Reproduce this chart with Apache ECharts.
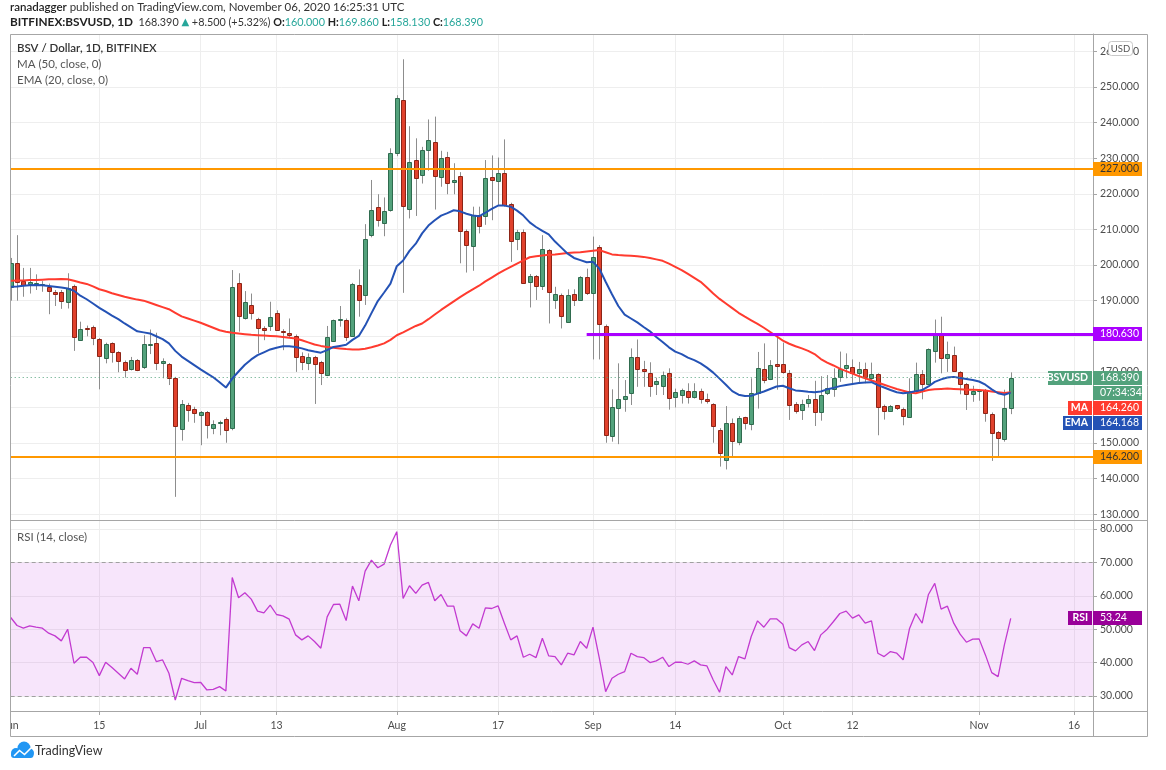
<!DOCTYPE html>
<html>
<head>
<meta charset="utf-8">
<title>BSV / Dollar, 1D, BITFINEX</title>
<script src="https://cdn.jsdelivr.net/npm/echarts@6/dist/echarts.min.js"></script>
<style>
  html, body { margin: 0; padding: 0; background: #fff; }
  #chart { width: 1166px; height: 770px; }
</style>
</head>
<body>
<div id="chart"></div>
<script>
// ---- data ----
var firstDate = '2020-06-01';
var dayCount = 172; // Jun 1 .. Nov 19, the axis runs past the last candle

var tickDates = ['2020-06-01', '2020-06-15', '2020-07-01', '2020-07-13', '2020-08-01', '2020-08-17',
                 '2020-09-01', '2020-09-14', '2020-10-01', '2020-10-12', '2020-11-01', '2020-11-16'];
var tickLabels = ['Jun', '15', 'Jul', '13', 'Aug', '17', 'Sep', '14', 'Oct', '12', 'Nov', '16'];

var priceTicks = [130, 140, 150, 160, 170, 180, 190, 200, 210, 220, 230, 240, 250, 260];
var rsiTicks = [30, 40, 50, 60, 70, 80];

// daily candles from Jun 1: [open, close, low, high]
var candles = [
  [193.9,200.6,190.0,202.0],[200.7,195.5,190.0,208.4],[195.5,194.4,191.1,199.2],[194.6,195.3,192.0,199.2],
  [194.8,195.0,193.0,197.4],[194.2,194.6,192.5,195.5],[193.9,192.7,186.2,194.8],[192.5,191.8,188.5,193.0],
  [192.5,190.0,187.7,193.0],[189.7,193.7,187.8,197.7],[194.1,179.9,175.9,194.5],[179.1,182.1,178.9,184.1],
  [182.3,182.0,180.0,183.0],[182.7,179.7,177.5,183.0],[179.1,174.2,165.1,179.5],[174.0,177.8,172.4,178.2],
  [178.0,175.4,172.6,178.3],[175.5,173.0,169.9,175.8],[172.8,170.5,168.4,173.2],[170.7,173.3,170.4,174.2],
  [173.3,170.5,170.2,173.6],[171.2,177.7,170.8,180.3],[177.5,177.8,175.0,181.9],[178.2,172.7,170.5,181.0],
  [172.4,173.0,168.2,173.8],[172.2,168.4,166.3,172.5],[168.4,154.8,134.9,168.6],[154.0,160.9,150.7,162.1],
  [160.8,159.3,156.0,161.3],[159.7,158.5,155.7,160.2],[157.7,158.6,149.4,159.0],[158.7,155.1,151.3,159.0],
  [154.2,155.3,152.5,156.4],[155.5,155.9,152.2,156.3],[156.8,153.8,150.1,157.2],[154.4,193.9,153.6,198.6],
  [195.1,185.9,181.3,197.7],[185.0,189.5,184.7,192.7],[188.8,186.6,184.7,192.0],[184.8,182.2,175.2,185.2],
  [182.2,181.6,178.9,182.8],[182.7,185.3,181.5,189.7],[186.6,181.9,181.7,187.3],[181.6,181.3,176.1,182.0],
  [181.0,180.3,179.6,185.0],[180.2,174.3,170.0,180.5],[174.6,172.8,170.5,175.5],[172.4,174.1,170.5,175.2],
  [174.1,172.2,161.0,174.5],[172.8,169.8,166.3,173.1],[169.1,179.7,168.8,182.9],[178.7,184.5,178.4,184.7],
  [184.5,184.9,182.7,188.5],[184.7,180.0,178.7,185.0],[180.3,194.8,180.0,195.0],[194.3,190.0,185.5,198.8],
  [191.6,207.2,188.8,211.5],[208.3,215.4,207.8,223.9],[216.2,212.6,210.8,219.9],[212.0,215.3,208.1,219.0],
  [215.3,231.4,215.0,232.8],[231.5,247.0,230.6,247.7],[246.5,216.8,192.2,257.8],[215.8,229.0,213.1,239.0],
  [229.5,224.4,213.8,235.6],[225.3,232.3,222.9,233.2],[232.3,235.1,226.5,240.9],[234.6,225.1,215.6,241.7],
  [224.8,230.0,222.0,232.1],[230.3,223.1,219.9,231.8],[223.3,223.9,219.9,228.6],[225.0,209.5,200.5,226.1],
  [209.5,205.6,197.9,210.0],[205.6,214.2,198.4,216.4],[214.0,210.8,208.9,216.4],[213.8,224.5,211.3,229.5],
  [224.7,223.9,212.6,230.8],[223.7,225.9,216.9,230.2],[225.8,216.9,216.4,235.3],[217.1,206.6,200.9,217.5],
  [207.5,209.4,204.2,209.9],[209.4,195.0,194.8,210.0],[195.1,196.9,188.1,197.5],[196.9,194.1,190.2,197.2],
  [194.1,204.5,193.0,208.4],[204.2,192.5,183.6,204.5],[190.4,192.0,187.7,193.9],[191.6,185.8,182.2,192.0],
  [184.1,191.6,183.8,193.2],[191.8,190.2,188.5,193.2],[190.2,196.7,190.0,196.9],[196.7,192.2,191.6,199.0],
  [192.3,202.3,173.5,208.0],[205.0,183.3,173.5,205.6],[182.9,152.4,150.1,183.3],[151.8,160.0,150.4,165.1],
  [159.7,162.3,149.7,172.4],[162.4,163.3,158.8,167.7],[164.1,174.1,160.7,176.6],[174.1,170.8,165.8,179.1],
  [170.9,170.3,165.8,173.1],[169.8,166.1,163.0,172.7],[166.5,167.3,163.5,168.4],[166.1,169.1,163.5,170.1],
  [169.6,162.7,159.4,171.0],[163.0,164.3,160.0,165.3],[163.4,164.8,161.1,165.3],[164.7,163.0,161.1,166.8],
  [162.8,164.5,162.5,166.8],[164.7,162.5,161.1,165.3],[162.5,161.8,161.1,163.9],[160.9,154.6,150.1,161.2],
  [153.8,147.3,143.4,154.2],[145.4,155.7,142.6,160.4],[155.7,150.6,146.3,156.9],[150.4,157.1,149.4,157.6],
  [157.2,155.5,153.8,157.4],[155.5,164.2,153.6,168.2],[163.9,171.0,159.7,175.6],[170.9,167.7,166.8,178.0],
  [167.9,171.9,167.7,173.3],[172.2,171.7,165.0,180.0],[172.1,169.8,169.5,178.2],[169.6,160.7,156.5,170.5],
  [160.9,159.0,158.3,161.5],[159.1,160.9,156.5,162.2],[161.1,162.3,160.0,163.5],[162.5,158.8,154.8,167.5],
  [158.8,163.5,156.3,168.8],[164.0,165.4,163.5,169.1],[165.4,168.4,163.0,171.0],[168.4,170.7,167.2,175.7],
  [170.9,171.8,168.2,175.2],[171.4,169.6,166.3,173.5],[169.6,170.8,166.6,172.8],[170.8,168.6,166.8,172.6],
  [168.2,169.3,167.2,172.6],[169.3,159.9,152.2,169.6],[160.4,159.1,156.6,160.8],[159.1,160.4,158.8,160.7],
  [160.6,159.7,159.3,160.7],[159.7,157.6,155.0,160.0],[157.4,164.7,157.4,168.2],[164.7,169.4,164.4,172.6],
  [169.4,166.6,162.3,170.5],[166.6,176.3,166.4,176.6],[175.7,180.8,172.6,184.7],[180.8,173.8,169.6,185.5],
  [173.8,175.0,170.0,178.5],[174.7,170.3,170.0,177.1],[169.9,166.6,163.7,170.2],[166.6,163.7,159.3,166.9],
  [163.8,164.7,161.6,166.1],[164.8,165.0,161.9,165.2],[164.9,158.3,156.0,165.2],[158.3,153.0,145.0,158.6],
  [153.1,151.3,146.2,153.4],[151.3,159.9,150.4,165.0],[160.0,168.39,158.13,169.86]
];

var ma50 = [
  195.6,195.7,195.7,195.8,195.8,195.9,196.0,196.0,196.1,196.0,
  195.6,195.1,194.7,194.0,193.2,192.7,192.1,191.6,191.1,190.7,
  190.3,190.0,189.4,188.8,188.2,187.6,186.6,185.6,185.0,184.4,
  183.8,183.1,182.4,181.7,181.3,181.0,180.8,180.6,180.4,180.3,
  180.2,180.1,180.0,179.8,179.6,179.4,178.9,178.3,177.7,177.3,
  177.0,176.8,176.6,176.4,176.3,176.3,176.5,176.9,177.4,178.0,
  179.0,180.3,181.1,182.0,182.9,183.6,184.8,186.1,187.4,188.6,
  189.8,191.0,192.1,193.2,194.2,195.4,196.5,197.6,198.6,199.5,
  200.4,201.3,202.2,202.5,202.7,202.9,203.0,203.2,203.4,203.5,
  203.6,203.8,204.0,204.2,203.6,203.0,202.8,202.7,202.6,202.5,
  202.3,202.0,201.6,201.2,200.4,199.5,198.6,197.5,196.4,195.3,
  193.7,192.0,190.5,189.2,187.9,186.6,185.5,184.5,183.5,182.4,
  181.2,180.0,178.8,177.9,177.2,176.6,175.9,175.0,173.6,172.6,
  171.8,170.9,170.2,169.5,168.8,168.2,167.6,167.0,166.4,165.8,
  165.2,164.7,164.2,164.0,164.5,164.9,165.1,165.2,165.3,165.2,
  165.1,165.0,165.0,164.9,164.8,164.5,164.3,164.1,164.26
];

var ema20 = [
  193.9,194.0,194.2,194.3,194.4,194.3,194.1,193.9,193.7,193.4,
  192.8,191.4,190.4,189.2,188.0,186.9,185.8,184.8,183.6,182.5,
  181.4,181.1,180.8,180.0,179.2,178.0,175.9,174.3,173.1,171.9,
  170.7,169.6,168.5,167.1,165.6,168.1,170.1,172.0,173.5,174.7,
  175.5,176.3,176.8,177.2,177.2,177.0,176.6,176.1,175.7,175.4,
  176.1,177.0,177.3,177.6,179.0,180.1,183.0,186.5,189.9,192.3,
  194.8,199.7,201.3,204.0,206.0,208.9,211.1,212.6,213.9,214.6,
  215.4,215.1,214.4,213.9,213.7,214.7,215.8,216.7,216.7,216.4,
  215.3,213.9,212.0,210.7,209.6,208.6,206.6,204.9,203.2,202.0,
  201.4,200.8,200.9,199.0,195.3,191.8,188.5,186.1,185.0,183.9,
  182.6,181.4,179.8,178.4,176.9,175.7,175.0,174.0,173.3,172.4,
  171.2,169.8,168.1,166.4,164.6,163.6,163.2,163.3,163.9,164.5,
  165.2,165.9,166.1,165.4,164.8,164.6,164.4,164.3,164.5,165.1,
  165.5,166.0,166.3,166.6,166.9,167.0,167.1,166.3,165.6,164.9,
  164.3,164.0,164.2,164.6,164.9,165.9,167.2,167.9,168.4,168.6,
  168.3,168.0,167.7,167.3,166.4,165.1,164.0,163.6,164.168
];

var rsi14 = [
  53.5,51.1,50.3,51.0,50.6,50.3,48.8,48.0,46.5,50.0,
  39.8,41.6,41.6,40.0,36.1,40.1,38.5,36.8,35.1,38.3,
  36.5,44.5,44.5,40.3,40.8,36.8,28.8,35.3,34.6,34.0,
  34.1,31.8,32.0,32.8,31.5,65.5,59.4,60.9,59.0,55.4,
  54.9,57.2,54.4,54.0,53.0,48.3,46.8,48.0,46.3,44.3,
  53.7,57.4,57.5,52.6,62.9,58.5,67.4,70.7,68.4,69.5,
  75.2,79.2,59.2,63.0,60.7,63.2,64.0,58.5,60.4,56.9,
  56.9,49.5,48.0,51.6,50.3,56.4,56.2,57.0,51.8,46.8,
  48.0,41.6,42.5,41.5,47.3,42.0,41.8,39.3,42.8,42.3,
  46.3,44.3,50.6,41.3,31.3,35.3,36.5,37.3,42.8,41.8,
  41.5,40.0,40.5,41.6,38.8,40.1,40.1,39.5,40.5,39.3,
  39.0,34.8,31.1,38.8,36.3,41.8,41.1,47.8,52.5,50.6,
  53.1,53.1,51.5,44.5,43.5,45.3,46.3,43.6,48.3,50.0,
  52.3,54.7,55.4,53.3,54.3,51.8,52.5,42.8,41.8,43.3,
  42.8,40.8,50.1,54.7,51.8,60.4,63.7,56.0,56.9,51.8,
  48.5,46.1,47.0,47.1,42.3,37.0,35.8,45.3,53.24
];

var resistance = 227.0;
var support = 146.2;
var midLevel = 180.63;
var midLevelFrom = '2020-08-31';
var lastPrice = 168.39;
var lastMa = 164.26;
var lastEma = 164.168;
var lastRsi = 53.24;
var countdown = '07:34:34';

// ---- chart ----
var FONT = 'Lato, "DejaVu Sans", sans-serif';
var TEXT = '#4d4d4d';
var GRID = '#eeeeee';
var FRAME = '#a6a6a6';
var UP = '#53a27c', UP_EDGE = '#2f6b4e';
var DOWN = '#e0412c', DOWN_EDGE = '#8c2416';

function buildDates(start, n){
  var out = [];
  var d = new Date(start + 'T00:00:00Z');
  for (var i = 0; i < n; i++) {
    out.push(d.toISOString().slice(0, 10));
    d.setUTCDate(d.getUTCDate() + 1);
  }
  return out;
}
var dates = buildDates(firstDate, dayCount);

function isTick(idx, value){ return tickDates.indexOf(value) >= 0 }
function tickText(value){
  var k = tickDates.indexOf(value);
  return k >= 0 ? tickLabels[k] : '';
}

var candleData = candles.map(function(c, i){ return [i, c[0], c[1], c[2], c[3]] });

function drawCandle(params, api){
  var i = api.value(0);
  var o = api.value(1), c = api.value(2), lo = api.value(3), hi = api.value(4);
  var pO = api.coord([i, o]);
  var x = Math.round(pO[0]) + 0.5;
  var yC = api.coord([i, c])[1];
  var yL = api.coord([i, lo])[1];
  var yH = api.coord([i, hi])[1];
  var w = Math.max(3, Math.round(api.size([1, 0])[0] * 0.62));
  var up = c >= o;
  var top = Math.round(Math.min(pO[1], yC)) + 0.5;
  var h = Math.max(1, Math.round(Math.abs(pO[1] - yC)));
  return {
    type: 'group',
    children: [
      {type: 'line', shape: {x1: x, y1: yH, x2: x, y2: yL}, style: {stroke: '#8d8d8d', lineWidth: 1}},
      {type: 'rect', shape: {x: x - w / 2, y: top, width: w, height: h},
       style: {fill: up ? UP : DOWN, stroke: up ? UP_EDGE : DOWN_EDGE, lineWidth: 1}}
    ]
  };
}

var axisLabelStyle = {color: TEXT, fontSize: 10.5, fontFamily: FONT};

var chart = echarts.init(document.getElementById('chart'), null, {renderer: 'canvas'});

var option = {
  animation: false,
  backgroundColor: '#fff',
  grid: [
    {left: 10.7, top: 34, width: 1082.3, height: 486, outerBoundsMode: 'none'},
    {left: 10.7, top: 521, width: 1082.3, height: 190, outerBoundsMode: 'none'}
  ],
  xAxis: [
    {
      type: 'category', gridIndex: 0, data: dates, boundaryGap: false,
      axisLine: {show: false}, axisTick: {show: false}, axisLabel: {show: false},
      splitLine: {show: true, interval: isTick, lineStyle: {color: GRID, width: 1}}
    },
    {
      type: 'category', gridIndex: 1, data: dates, boundaryGap: false,
      axisLine: {show: true, lineStyle: {color: FRAME}},
      axisTick: {show: true, interval: isTick, length: 4, lineStyle: {color: FRAME}},
      axisLabel: Object.assign({interval: isTick, formatter: tickText, margin: 9}, axisLabelStyle),
      splitLine: {show: true, interval: isTick, lineStyle: {color: GRID, width: 1}}
    }
  ],
  yAxis: [
    {
      type: 'value', gridIndex: 0, position: 'right', min: 128.4, max: 264.9, scale: true,
      axisLine: {show: true, lineStyle: {color: FRAME}},
      axisTick: {show: true, length: 4, customValues: priceTicks, lineStyle: {color: FRAME}},
      axisLabel: Object.assign({customValues: priceTicks, margin: 7,
        formatter: function(v){ return v.toFixed(3) }}, axisLabelStyle),
      splitLine: {show: true, lineStyle: {color: GRID, width: 1}}
    },
    {
      type: 'value', gridIndex: 1, position: 'right', min: 25.5, max: 82.4, scale: true,
      axisLine: {show: true, lineStyle: {color: FRAME}},
      axisTick: {show: true, length: 4, customValues: rsiTicks, lineStyle: {color: FRAME}},
      axisLabel: Object.assign({customValues: rsiTicks, margin: 7,
        formatter: function(v){ return v.toFixed(3) }}, axisLabelStyle),
      splitLine: {show: true, lineStyle: {color: GRID, width: 1}}
    }
  ],
  series: [
    {
      name: 'BSVUSD', type: 'custom', xAxisIndex: 0, yAxisIndex: 0, z: 2,
      renderItem: drawCandle, data: candleData, encode: {x: 0, y: [1, 2, 3, 4]}, clip: true,
      markLine: {
        silent: true, symbol: ['none', 'none'], label: {show: false},
        lineStyle: {color: UP, type: [1, 3], width: 1},
        data: [{yAxis: lastPrice}]
      }
    },
    {
      name: 'MA', type: 'line', xAxisIndex: 0, yAxisIndex: 0, z: 3, data: ma50,
      showSymbol: false, symbol: 'none', lineStyle: {color: '#ff3b2f', width: 2}, silent: true
    },
    {
      name: 'EMA', type: 'line', xAxisIndex: 0, yAxisIndex: 0, z: 3, data: ema20,
      showSymbol: false, symbol: 'none', lineStyle: {color: '#2452b5', width: 2}, silent: true
    },
    {
      name: 'levels', type: 'line', xAxisIndex: 0, yAxisIndex: 0, z: 4, data: [],
      markLine: {
        silent: true, symbol: ['none', 'none'], label: {show: false},
        data: [
          {yAxis: resistance, lineStyle: {color: '#ff9800', width: 2, type: 'solid'}},
          {yAxis: support, lineStyle: {color: '#ff9800', width: 2, type: 'solid'}},
          [
            {coord: [midLevelFrom, midLevel], lineStyle: {color: '#aa00ff', width: 3, type: 'solid'}},
            {coord: [dates[dates.length - 1], midLevel]}
          ]
        ]
      }
    },
    {
      name: 'rsiBand', type: 'line', xAxisIndex: 1, yAxisIndex: 1, z: 1, data: [],
      markArea: {
        silent: true,
        itemStyle: {color: 'rgba(200, 80, 230, 0.15)'},
        data: [[{yAxis: 30}, {yAxis: 70}]]
      },
      markLine: {
        silent: true, symbol: ['none', 'none'], label: {show: false},
        lineStyle: {color: '#a0a0a0', width: 1, type: [4, 3]},
        data: [{yAxis: 70}, {yAxis: 30}]
      }
    },
    {
      name: 'RSI', type: 'line', xAxisIndex: 1, yAxisIndex: 1, z: 3, data: rsi14,
      showSymbol: false, symbol: 'none', lineStyle: {color: '#c23ad0', width: 1.3}, silent: true
    }
  ]
};

chart.setOption(option);

// ---- overlays: frame, header, price tags ----
function priceY(v){ return chart.convertToPixel({yAxisIndex: 0}, v) }
function rsiY(v){ return chart.convertToPixel({yAxisIndex: 1}, v) }

function txt(x, y, text, fill, size, weight, align){
  return {
    type: 'text', z: 60,
    style: {
      x: x, y: y, text: text, fill: fill, font: (weight || 'normal') + ' ' + size + 'px ' + FONT,
      align: align || 'left', textAlign: align || 'left',
      verticalAlign: 'middle', textVerticalAlign: 'middle'
    }
  };
}
function box(x, y, w, h, fill){
  return {type: 'rect', z: 55, shape: {x: x, y: y, width: w, height: h}, style: {fill: fill}};
}
function valueTag(y, text, bg, fg){
  return [box(1093, Math.round(y) - 7, 49, 14, bg), txt(1100, Math.round(y), text, fg, 10.5)];
}
function nameTag(y, text, width, bg){
  return [box(1092 - width, Math.round(y) - 7, width, 14, bg),
          txt(1088, Math.round(y), text, '#fff', 10.5, 'bold', 'right')];
}

var yLast = priceY(lastPrice);
var overlays = [];

// frame and pane divider
overlays.push({type: 'rect', z: 50, shape: {x: 10.5, y: 34.5, width: 1137, height: 702},
  style: {fill: null, stroke: FRAME, lineWidth: 1}});
overlays.push({type: 'line', z: 50, shape: {x1: 10.5, y1: 520.5, x2: 1147.5, y2: 520.5},
  style: {stroke: FRAME, lineWidth: 1}});
overlays.push({type: 'line', z: 50, shape: {x1: 1093.5, y1: 34.5, x2: 1093.5, y2: 736.5},
  style: {stroke: FRAME, lineWidth: 1}});
overlays.push({type: 'line', z: 50, shape: {x1: 1093.5, y1: 711.5, x2: 1147.5, y2: 711.5},
  style: {stroke: FRAME, lineWidth: 1}});
// the first month label is cut by the pane edge
overlays.push({type: 'rect', z: 49, shape: {x: 0, y: 713, width: 10.5, height: 22}, style: {fill: '#fff'}});

// USD badge
overlays.push({type: 'rect', z: 56, shape: {x: 1108.5, y: 41.5, width: 24, height: 14, r: 3},
  style: {fill: '#fff', stroke: '#c8c8c8', lineWidth: 1}});
overlays.push(txt(1120.5, 48.5, 'USD', '#555', 9.5, 'normal', 'center'));

// header
overlays.push({
  type: 'text', z: 60,
  style: {
    x: 10, y: 7, text: '{u|ranadagger} published on TradingView.com, November 06, 2020 16:25:31 UTC',
    fill: '#333', font: '11.5px ' + FONT, verticalAlign: 'middle', textVerticalAlign: 'middle',
    rich: {u: {fill: '#222', font: '600 11.5px ' + FONT}}
  }
});
overlays.push({
  type: 'text', z: 60,
  style: {
    x: 10, y: 22.5,
    text: '{b|BITFINEX:BSVUSD, 1D}  168.390 {t|▲} +8.500 (+5.32%) {k|O:}{v|160.000} {k|H:}{v|169.860} {k|L:}{v|158.130} {k|C:}{v|168.390}',
    fill: '#333', font: '10.8px ' + FONT, verticalAlign: 'middle', textVerticalAlign: 'middle',
    rich: {
      b: {fill: '#222', font: 'bold 11.8px ' + FONT},
      k: {fill: '#222', font: 'bold 10.8px ' + FONT},
      t: {fill: '#26a69a', font: '10px "DejaVu Sans", sans-serif'},
      v: {fill: '#26a69a', font: '10.8px ' + FONT}
    }
  }
});

// pane legends
overlays.push(txt(17, 48, 'BSV / Dollar, 1D, BITFINEX', '#333', 11.5, '600'));
overlays.push(txt(17, 64, 'MA (50, close, 0)', '#555', 11.5));
overlays.push(txt(17, 80, 'EMA (20, close, 0)', '#555', 11.5));
overlays.push(txt(17, 537, 'RSI (14, close)', '#555', 11.5));

// right-hand tags
overlays = overlays.concat(valueTag(priceY(resistance), resistance.toFixed(3), '#ff9800', '#333'));
overlays = overlays.concat(valueTag(priceY(midLevel), midLevel.toFixed(3), '#aa00ff', '#fff'));
overlays = overlays.concat(valueTag(priceY(support), support.toFixed(3), '#ff9800', '#333'));
overlays = overlays.concat(nameTag(yLast, 'BSVUSD', 44, UP), valueTag(yLast, lastPrice.toFixed(3), UP, '#fff'));
overlays = overlays.concat(valueTag(yLast + 15, countdown, UP, '#fff'));
overlays = overlays.concat(nameTag(yLast + 30, 'MA', 24, '#ff3b2f'), valueTag(yLast + 30, lastMa.toFixed(3), '#ff3b2f', '#fff'));
overlays = overlays.concat(nameTag(yLast + 45, 'EMA', 29, '#2452b5'), valueTag(yLast + 45, lastEma.toFixed(3), '#2452b5', '#fff'));
var yRsi = rsiY(lastRsi);
overlays = overlays.concat(nameTag(yRsi, 'RSI', 24, '#990099'), valueTag(yRsi, lastRsi.toFixed(2), '#990099', '#fff'));

// TradingView mark
overlays.push({
  type: 'group', z: 60,
  children: [
    {type: 'circle', shape: {cx: 16, cy: 753, r: 5}, style: {fill: '#2196f3'}},
    {type: 'circle', shape: {cx: 24, cy: 748, r: 6.5}, style: {fill: '#2196f3'}},
    {type: 'circle', shape: {cx: 29.5, cy: 753, r: 4.5}, style: {fill: '#2196f3'}},
    {type: 'rect', shape: {x: 11, y: 752, width: 22.5, height: 6, r: 3}, style: {fill: '#2196f3'}},
    {type: 'polyline', shape: {points: [[14, 756], [19.5, 750.5], [24.5, 754.5], [31, 748]]},
     style: {stroke: '#fff', lineWidth: 1.6, fill: null}}
  ]
});
overlays.push(txt(35, 751, 'TradingView', '#333', 12.5));

chart.setOption({graphic: overlays});
</script>
</body>
</html>
